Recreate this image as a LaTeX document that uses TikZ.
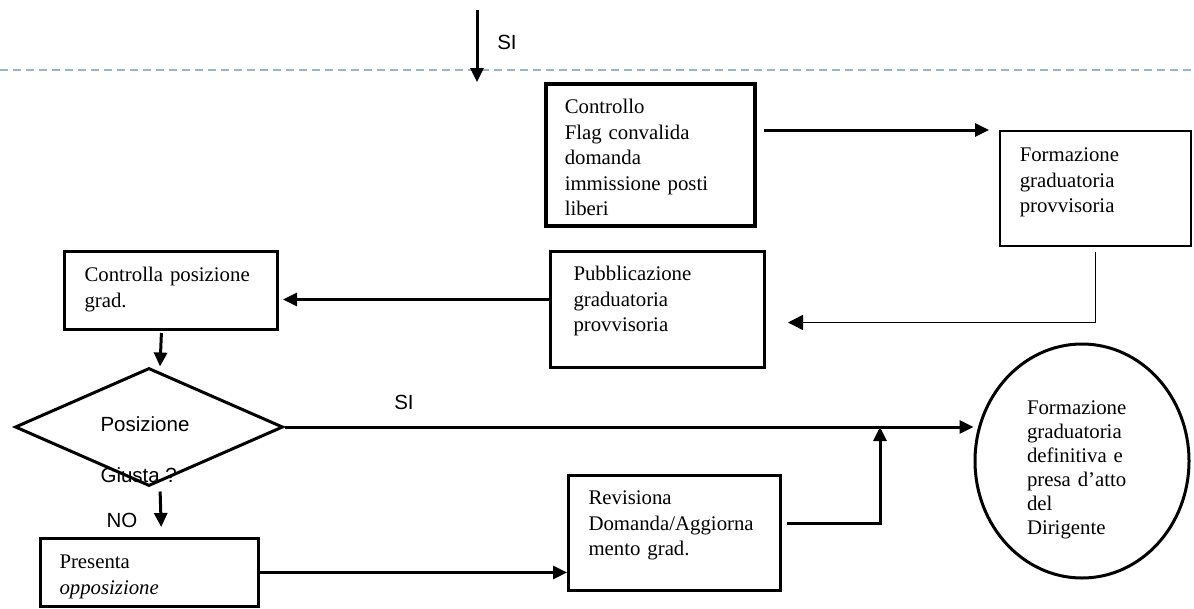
\documentclass[tikz,border=0pt]{standalone}
\usepackage{fontspec}
\setmainfont{Liberation Serif}
\setsansfont{Liberation Sans}
\usepackage{xcolor}
\usepackage{tikz}
\usetikzlibrary{shapes.geometric, arrows.meta}
\definecolor{dashblue}{RGB}{155,178,204}

\begin{document}
\begin{tikzpicture}[x=1pt, y=-1pt]
        % Define block styles, sizes in pixels of the page
        \tikzstyle{block} = [rectangle, draw, line width=3pt, align=left,
                             inner ysep=0pt, anchor=north west, font={\fontsize{20.8}{25.5}\selectfont}]
        \tikzstyle{thinblock} = [block, line width=1.5pt]
        \tikzstyle{decision} = [diamond, draw, line width=3pt, inner sep=0pt]
        \tikzstyle{final} = [ellipse, draw, line width=3pt, inner sep=0pt, align=left,
                             font={\fontsize{20.8}{24}\selectfont}]
        \tikzstyle{lbl} = [inner sep=0pt, font={\sffamily\fontsize{20.5}{25.5}\selectfont}]
        \tikzstyle{arrow} = [line width=3pt, -{Triangle[length=14pt,width=13pt]}]
        \tikzstyle{thinarrow} = [line width=1.5pt, -{Triangle[length=15pt,width=15pt]}]

        \useasboundingbox (0,0) rectangle (1194,608);
        \draw [dashblue, line width=2pt, dash pattern=on 8pt off 5pt] (0,70) -- (1194,70);

        % Blocks
        \node (controllo) [block, text width=171pt, inner xsep=19pt, text height=30pt, text depth=112pt, line width=3.5pt]
              at (544,82) {Controllo\\Flag convalida\\domanda\\immissione posti\\liberi};
        \node (formprov) [thinblock, text width=151pt, inner xsep=20pt, text height=31pt, text depth=84pt]
              at (999,130) {Formazione\\graduatoria\\provvisoria};
        \node (pubbl) [block, text width=168pt, inner xsep=23pt, text height=29pt, text depth=87pt]
              at (549,250) {Pubblicazione\\graduatoria\\provvisoria};
        \node (ctrlpos) [block, text width=173pt, inner xsep=20pt, text height=30pt, text depth=48pt]
              at (63,250) {Controlla~posizione\\grad.};
        \node (decis) [decision, minimum width=268pt, minimum height=118pt] at (149,427) {};
        \node (decistext) [lbl, align=left] at (145,450) {Posizione\\[25.5pt]Giusta ?};
        \node (presenta) [block, text width=180pt, inner xsep=19pt, text height=30pt, text depth=38pt]
              at (39,537) {Presenta\\\textit{opposizione}};
        \node (revis) [block, text width=172pt, inner xsep=20pt, text height=29pt, text depth=86pt]
              at (567,474) {Revisiona\\Domanda/Aggiorna\\mento grad.};
        \node (finale) [final, minimum width=214pt, minimum height=234pt, text width=110pt,
                        text height=10pt, text depth=104pt]
              at (1082,461) {Formazione\\graduatoria\\definitiva e\\presa d’atto\\del\\Dirigente};

        % Labels
        \node (si1) [lbl] at (507,42) {SI};
        \node (si2) [lbl] at (404,402) {SI};
        \node (no) [lbl] at (122,520) {NO};

        \coordinate (start) at (477,10);
        \coordinate (joint) at (880,427);

        % Arrows
        \draw [arrow] (start) -- (start |- controllo.north);
        \draw [arrow, shorten <=7pt, shorten >=10pt] (controllo.east |- formprov.north west) -- (formprov.north west);
        \draw [thinarrow, shorten <=5pt, shorten >=22pt] (formprov.south) |- ([yshift=-13pt]pubbl.east);
        \draw [arrow, shorten >=4pt] ([yshift=10pt]pubbl.west) -- ([yshift=-9pt]ctrlpos.east);
        \draw [arrow, shorten <=2pt] ([xshift=-9.5pt]ctrlpos.south) -- ([xshift=11pt]decis.north);
        \draw [arrow] (decis.east) -- (decis.east -| finale.west);
        \draw [arrow, shorten <=4pt, shorten >=10pt] ([xshift=11pt]decis.south) -- ([xshift=12pt]presenta.north);
        \draw [arrow] (presenta.east) -- (presenta.east -| revis.west);
        \draw [arrow, shorten <=5pt] ([yshift=9.5pt]revis.east) -| (joint);
\end{tikzpicture}
\end{document}
